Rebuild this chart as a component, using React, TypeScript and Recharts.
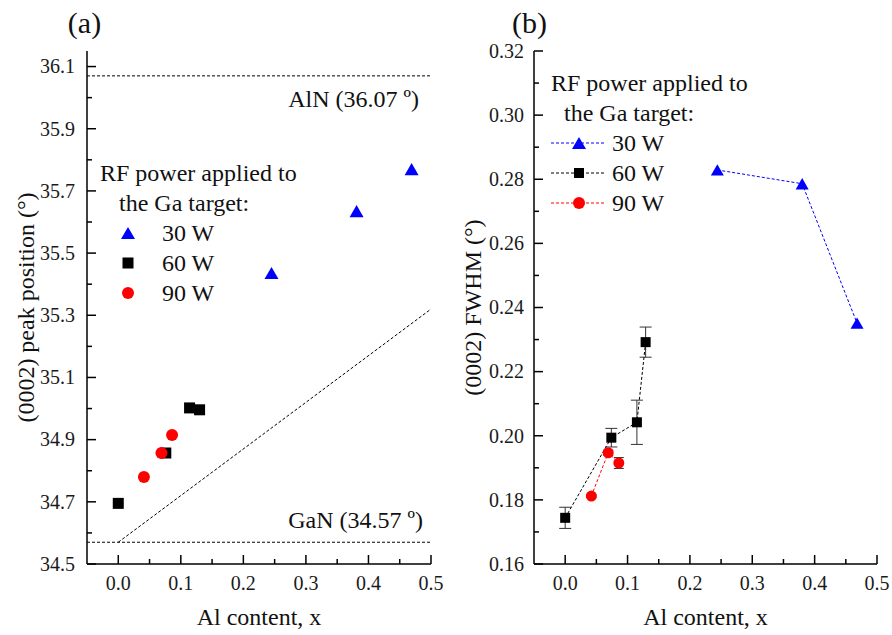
import React from 'react';
import { ScatterChart, Scatter, XAxis, YAxis, ReferenceLine, ErrorBar, Legend, Label } from 'recharts';

const FONT = 'Liberation Serif, Tinos, "Times New Roman", serif';

const powers = ['30 W', '60 W', '90 W'];
const powerColors = ['#0000ff', '#000000', '#ff0000'];

// (a) (0002) peak position vs Al content
const peak30W = [
  { x: 0.245, y: 35.436, err: 0.012 },
  { x: 0.381, y: 35.635, err: 0.012 },
  { x: 0.469, y: 35.77, err: 0.006 },
];
const peak60W = [
  { x: 0.0, y: 34.695 },
  { x: 0.076, y: 34.857 },
  { x: 0.114, y: 35.002 },
  { x: 0.13, y: 34.996 },
];
const peak90W = [
  { x: 0.041, y: 34.78 },
  { x: 0.069, y: 34.857 },
  { x: 0.086, y: 34.915 },
];
const alnPeak = 36.07;
const ganPeak = 34.57;
const vegardLine = [
  { x: 0, y: 34.57 },
  { x: 0.5, y: 35.32 },
];

// (b) (0002) FWHM vs Al content
const fwhm30W = [
  { x: 0.244, y: 0.2829 },
  { x: 0.38, y: 0.2786 },
  { x: 0.468, y: 0.2351 },
];
const fwhm60W = [
  { x: 0.0, y: 0.1744, err: 0.0033 },
  { x: 0.074, y: 0.1994, err: 0.0029 },
  { x: 0.115, y: 0.2042, err: 0.0069 },
  { x: 0.129, y: 0.2292, err: 0.0047 },
];
const fwhm90W = [
  { x: 0.042, y: 0.1812, err: 0.0005 },
  { x: 0.069, y: 0.1947, err: 0.0008 },
  { x: 0.086, y: 0.1915, err: 0.0017 },
];

// ticks
const xTicks = [0, 0.05, 0.1, 0.15, 0.2, 0.25, 0.3, 0.35, 0.4, 0.45, 0.5];
const xMajor = [0, 0.1, 0.2, 0.3, 0.4, 0.5];
const peakTicks = [34.5, 34.6, 34.7, 34.8, 34.9, 35.0, 35.1, 35.2, 35.3, 35.4, 35.5, 35.6, 35.7, 35.8, 35.9, 36.0, 36.1];
const peakMajor = [34.5, 34.7, 34.9, 35.1, 35.3, 35.5, 35.7, 35.9, 36.1];
const fwhmTicks = [0.16, 0.17, 0.18, 0.19, 0.2, 0.21, 0.22, 0.23, 0.24, 0.25, 0.26, 0.27, 0.28, 0.29, 0.3, 0.31, 0.32];
const fwhmMajor = [0.16, 0.18, 0.2, 0.22, 0.24, 0.26, 0.28, 0.3, 0.32];

const isIn = (list: number[], v: number) => list.some(m => Math.abs(m - v) < 1e-9);
const axisLine = { stroke: '#000', strokeWidth: 1.5 };

const makeXTick = (majors: number[]) => (props: any) => {
  const { x, y, payload } = props;
  const v = payload.value;
  const major = isIn(majors, v);
  const base = y - 8;
  return (
    <g>
      <line x1={x} x2={x} y1={base} y2={base - (major ? 9 : 5)} stroke="#000" strokeWidth={1.5} />
      {major && (
        <text x={x} y={base + 26} textAnchor="middle" fontSize={20} fontFamily={FONT} fill="#1a1a1a">
          {v.toFixed(1)}
        </text>
      )}
    </g>
  );
};

const makeYTick = (majors: number[], digits: number, gap: number) => (props: any) => {
  const { x, y, payload } = props;
  const v = payload.value;
  const major = isIn(majors, v);
  const base = x + 8;
  return (
    <g>
      <line x1={base} x2={base + (major ? 9 : 5)} y1={y} y2={y} stroke="#000" strokeWidth={1.5} />
      {major && (
        <text x={base - gap} y={y} dy="0.34em" textAnchor="end" fontSize={20} fontFamily={FONT} fill="#1a1a1a">
          {v.toFixed(digits)}
        </text>
      )}
    </g>
  );
};

const Marker = ({ kind, cx, cy, s }: { kind: number; cx: number; cy: number; s: number }) => {
  if (cx == null || cy == null) return null;
  if (kind === 0) {
    const h = s * 0.87;
    return (
      <polygon
        points={`${cx},${cy - h / 2} ${cx + s / 2},${cy + h / 2} ${cx - s / 2},${cy + h / 2}`}
        fill={powerColors[0]}
      />
    );
  }
  if (kind === 1) return <rect x={cx - s / 2} y={cy - s / 2} width={s} height={s} fill={powerColors[1]} />;
  return <circle cx={cx} cy={cy} r={s / 2} fill={powerColors[2]} />;
};

const shapeOf = (kind: number, s: number) => (p: any) => <Marker kind={kind} cx={p.cx} cy={p.cy} s={s} />;

const PowerLegend = ({ lines }: { lines: boolean }) => (
  <div style={{ fontFamily: FONT, fontSize: 24, color: '#111', lineHeight: '30px', whiteSpace: 'nowrap' }}>
    <div>RF power applied to</div>
    <div style={{ paddingLeft: lines ? 13 : 19 }}>the Ga target:</div>
    {powers.map((p, i) => (
      <div key={p} style={{ display: 'flex', alignItems: 'center', height: 30 }}>
        <svg width={lines ? 61 : 62} height={30} style={{ display: 'block' }}>
          {lines && <line x1={0} x2={55} y1={15} y2={15} stroke={powerColors[i]} strokeDasharray="3 2" />}
          <Marker kind={i} cx={28} cy={15} s={i === 0 ? 14 : i === 1 ? (lines ? 10 : 11) : 12} />
        </svg>
        <span>{p}</span>
      </div>
    ))}
  </div>
);

const refLabel = (text: string, dx: number, dy: number) => (props: any) => {
  const vb = props.viewBox;
  if (!vb) return null;
  return (
    <text x={vb.x + vb.width - dx} y={vb.y + dy} textAnchor="end" fontSize={24} fontFamily={FONT} fill="#111">
      {text}
    </text>
  );
};

function PanelA() {
  return (
    <ScatterChart width={446} height={635} margin={{ top: 51, right: 15, bottom: 0, left: 0 }}>
      <XAxis
        type="number"
        dataKey="x"
        domain={[-0.05, 0.5]}
        allowDataOverflow
        ticks={xTicks}
        interval={0}
        tick={makeXTick(xMajor)}
        tickLine={false}
        axisLine={axisLine}
        height={71}
      >
        <Label value="Al content, x" position="insideBottom" offset={10} fontSize={24} fontFamily={FONT} fill="#111" />
      </XAxis>
      <XAxis xAxisId="top" orientation="top" type="number" domain={[-0.05, 0.5]} height={0} tick={false} tickLine={false} axisLine={axisLine} />
      <YAxis
        type="number"
        dataKey="y"
        domain={[34.5, 36.15]}
        allowDataOverflow
        ticks={peakTicks}
        interval={0}
        tick={makeYTick(peakMajor, 1, 12)}
        tickLine={false}
        axisLine={axisLine}
        width={87}
      >
        <Label
          value="(0002) peak position (°)"
          angle={-90}
          position="insideLeft"
          offset={25}
          fontSize={24}
          fontFamily={FONT}
          fill="#111"
          style={{ textAnchor: 'middle' }}
        />
      </YAxis>
      <YAxis yAxisId="right" orientation="right" type="number" domain={[34.5, 36.15]} width={0} tick={false} tickLine={false} axisLine={axisLine} />
      <ReferenceLine y={alnPeak} stroke="#000" strokeWidth={1} strokeDasharray="3 2" label={refLabel(`AlN (${alnPeak.toFixed(2)} º)`, 12, 31)} />
      <ReferenceLine y={ganPeak} stroke="#000" strokeWidth={1} strokeDasharray="3 2" label={refLabel(`GaN (${ganPeak.toFixed(2)} º)`, 8, -14)} />
      <ReferenceLine segment={vegardLine} stroke="#000" strokeWidth={1} strokeDasharray="3 2" />
      <Scatter data={peak30W} fill={powerColors[0]} shape={shapeOf(0, 14)} isAnimationActive={false}>
        <ErrorBar dataKey="err" direction="y" width={0} stroke={powerColors[0]} strokeWidth={1} />
      </Scatter>
      <Scatter data={peak60W} fill={powerColors[1]} shape={shapeOf(1, 11)} isAnimationActive={false} />
      <Scatter data={peak90W} fill={powerColors[2]} shape={shapeOf(2, 12)} isAnimationActive={false} />
      <Legend
        layout="vertical"
        align="center"
        verticalAlign="middle"
        content={() => <PowerLegend lines={false} />}
        wrapperStyle={{ left: 100, top: 158, width: 300, height: 'auto' }}
      />
    </ScatterChart>
  );
}

function PanelB() {
  return (
    <ScatterChart width={446} height={635} margin={{ top: 51, right: 15, bottom: 0, left: 0 }}>
      <XAxis
        type="number"
        dataKey="x"
        domain={[-0.05, 0.5]}
        allowDataOverflow
        ticks={xTicks}
        interval={0}
        tick={makeXTick(xMajor)}
        tickLine={false}
        axisLine={axisLine}
        height={71}
      >
        <Label value="Al content, x" position="insideBottom" offset={10} fontSize={24} fontFamily={FONT} fill="#111" />
      </XAxis>
      <XAxis xAxisId="top" orientation="top" type="number" domain={[-0.05, 0.5]} height={0} tick={false} tickLine={false} axisLine={axisLine} />
      <YAxis
        type="number"
        dataKey="y"
        domain={[0.16, 0.32]}
        allowDataOverflow
        ticks={fwhmTicks}
        interval={0}
        tick={makeYTick(fwhmMajor, 2, 10)}
        tickLine={false}
        axisLine={axisLine}
        width={88}
      >
        <Label
          value="(0002) FWHM (°)"
          angle={-90}
          position="insideLeft"
          offset={26}
          fontSize={24}
          fontFamily={FONT}
          fill="#111"
          style={{ textAnchor: 'middle' }}
        />
      </YAxis>
      <YAxis yAxisId="right" orientation="right" type="number" domain={[0.16, 0.32]} width={0} tick={false} tickLine={false} axisLine={axisLine} />
      <Scatter
        data={fwhm30W}
        fill={powerColors[0]}
        shape={shapeOf(0, 13)}
        line={{ stroke: powerColors[0], strokeWidth: 1, strokeDasharray: '3 2' }}
        isAnimationActive={false}
      />
      <Scatter
        data={fwhm60W}
        fill={powerColors[1]}
        shape={shapeOf(1, 10)}
        line={{ stroke: powerColors[1], strokeWidth: 1, strokeDasharray: '3 2' }}
        isAnimationActive={false}
      >
        <ErrorBar dataKey="err" direction="y" width={6} stroke="#333" strokeWidth={1} />
      </Scatter>
      <Scatter
        data={fwhm90W}
        fill={powerColors[2]}
        shape={shapeOf(2, 11)}
        line={{ stroke: powerColors[2], strokeWidth: 1, strokeDasharray: '3 2' }}
        isAnimationActive={false}
      >
        <ErrorBar dataKey="err" direction="y" width={5} stroke="#333" strokeWidth={1} />
      </Scatter>
      <Legend
        layout="vertical"
        align="center"
        verticalAlign="middle"
        content={() => <PowerLegend lines />}
        wrapperStyle={{ left: 105, top: 68, width: 300, height: 'auto' }}
      />
    </ScatterChart>
  );
}

export default function App() {
  return (
    <div style={{ position: 'absolute', left: 0, top: 0, width: 892, height: 635, background: '#fff' }}>
      <div style={{ position: 'absolute', left: 0, top: 0 }}>
        <PanelA />
      </div>
      <div style={{ position: 'absolute', left: 446, top: 0 }}>
        <PanelB />
      </div>
      <svg width={892} height={635} style={{ position: 'absolute', left: 0, top: 0, pointerEvents: 'none' }}>
        <text x={84.5} y={33} textAnchor="middle" fontSize={30} fontFamily={FONT} fill="#111">(a)</text>
        <text x={529.5} y={33} textAnchor="middle" fontSize={30} fontFamily={FONT} fill="#111">(b)</text>
      </svg>
    </div>
  );
}
